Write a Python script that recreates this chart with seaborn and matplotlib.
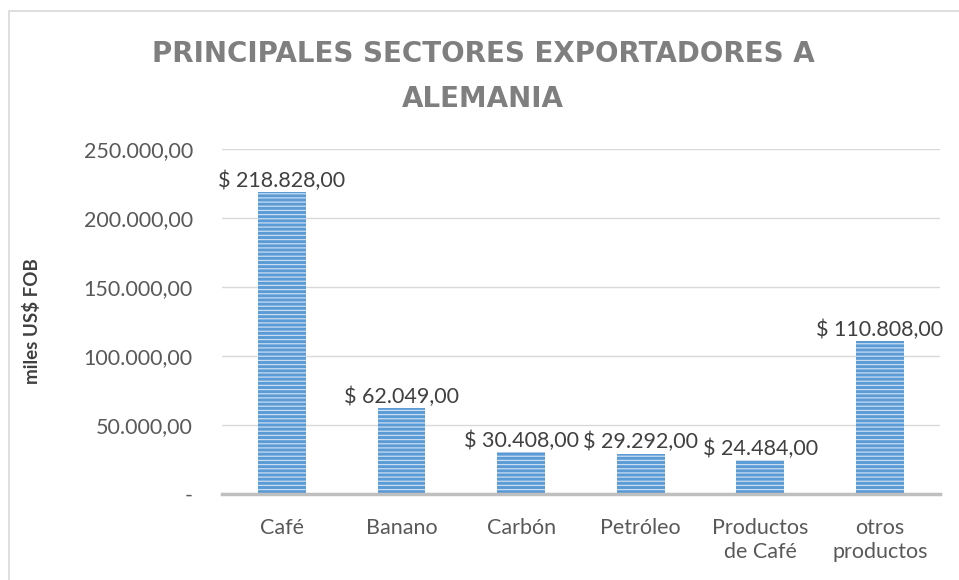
import matplotlib
matplotlib.use('Agg')
import matplotlib.pyplot as plt
from matplotlib.patches import Rectangle
from matplotlib.ticker import FuncFormatter
import seaborn as sns
import pandas as pd

# data
categories = ['Café', 'Banano', 'Carbón', 'Petróleo', 'Productos\nde Café', 'otros\nproductos']
values = [218828, 62049, 30408, 29292, 24484, 110808]
y_ticks = [0, 50000, 100000, 150000, 200000, 250000]

title = 'PRINCIPALES SECTORES EXPORTADORES A\nALEMANIA'
y_label = 'miles US$ FOB'


def es_number(v):
    # 218828 -> 218.828,00
    s = f'{v:,.2f}'
    return s.replace(',', 'X').replace('.', ',').replace('X', '.')


sns.set_theme(style='white')
plt.rcParams['font.family'] = ['Lato', 'DejaVu Sans']
plt.rcParams['hatch.linewidth'] = 0.9

df = pd.DataFrame({'sector': categories, 'valor': values})

fig = plt.figure(figsize=(9.59, 5.80), dpi=100)
ax = fig.add_axes([0.2315, 0.1483, 0.7485, 0.5947])

sns.barplot(data=df, x='sector', y='valor', color='#5B9BD5', width=0.4,
            saturation=1, ax=ax, zorder=3)

for bar in ax.patches:
    bar.set_hatch('----')
    bar.set_edgecolor('#C9DDF2')
    bar.set_linewidth(0)

ax.bar_label(ax.containers[0], labels=['$ ' + es_number(v) for v in values],
             padding=1, fontsize=15.5, color='#404040')

ax.set_ylim(0, 250000)
ax.set_yticks(y_ticks)
ax.yaxis.set_major_formatter(FuncFormatter(lambda v, p: '-' if v == 0 else es_number(v)))
ax.grid(axis='y', color='#D9D9D9', linewidth=1, zorder=0)
ax.set_axisbelow(True)

for side in ['top', 'right', 'left']:
    ax.spines[side].set_visible(False)
ax.spines['bottom'].set_color('#BFBFBF')
ax.spines['bottom'].set_linewidth(2.5)
ax.spines['bottom'].set_zorder(4)

ax.tick_params(axis='y', labelsize=15.5, labelcolor='#595959', length=0, pad=21)
ax.tick_params(axis='x', labelsize=15.5, labelcolor='#595959', length=0, pad=17)
for lbl in ax.get_xticklabels():
    lbl.set_linespacing(1.3)
ax.set_xlabel('')
ax.set_ylabel(y_label, fontsize=13.5, fontweight='bold', color='#404040')
ax.yaxis.set_label_coords(-0.252, 0.5)

fig.text(0.504, 0.868, title, ha='center', va='center', fontsize=20,
         fontweight='bold', color='#7F7F7F', linespacing=1.8,
         family=['DejaVu Sans'])

# chart area border, cut off at right and bottom like the reference
fig.patches.append(Rectangle((9 / 959, -0.1), 1.2, 0.1 + (580 - 11) / 580,
                             transform=fig.transFigure, fill=False,
                             edgecolor='#D9D9D9', linewidth=1.2))

plt.savefig('out.png', dpi=100)
